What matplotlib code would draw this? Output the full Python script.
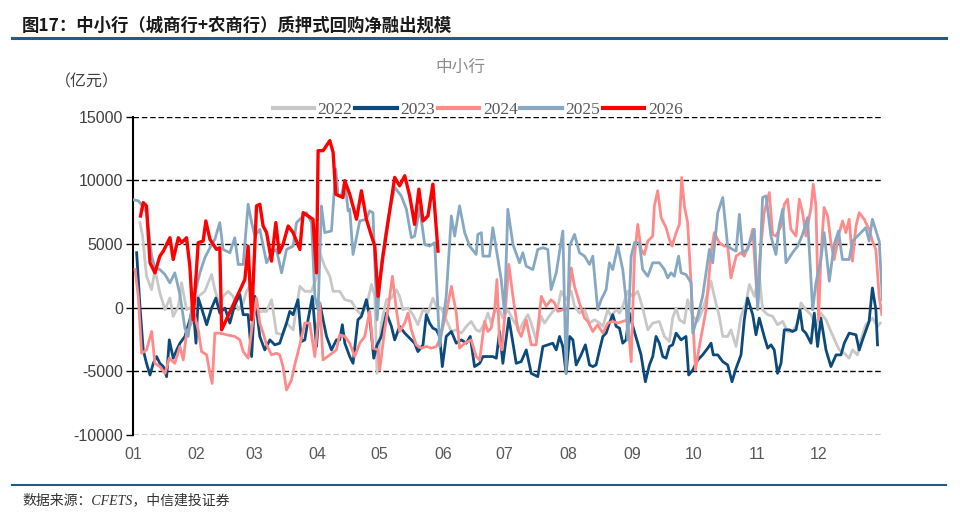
import numpy as np
import matplotlib
matplotlib.use("Agg")
import matplotlib.pyplot as plt
from matplotlib.lines import Line2D

plt.rcParams['font.family'] = ['Liberation Sans', 'Noto Sans CJK SC', 'DejaVu Sans']

# x = day of year, y = net lending (亿元)
d2022 = [3.4, 4.7, 6.6, 9.1, 10.7, 13.1, 15.6, 18.0, 19.6, 22.1, 23.7, 26.1, 29.3, 31.8, 35.0, 38.3, 39.9, 42.3,
         43.9, 46.4, 48.8, 51.3, 53.7, 55.3, 57.8, 60.2, 62.6, 65.1, 67.5, 69.9, 73.1, 74.8, 78.0, 81.3, 83.7, 86.9,
         89.4, 91.0, 93.4, 95.9, 97.5, 100.7, 103.2, 106.4, 108.9, 111.3, 113.7, 116.2, 117.8, 118.9, 121.0, 123.5,
         125.9, 128.3, 129.9, 131.5, 134.0, 136.4, 138.8, 141.3, 143.7, 146.1, 147.8, 150.2, 152.6, 155.1, 157.5,
         160.0, 162.4, 164.8, 167.2, 168.9, 171.3, 172.9, 174.5, 176.2, 178.6, 180.2, 182.6, 185.1, 188.3, 190.8,
         192.4, 194.0, 196.4, 198.9, 200.5, 202.1, 204.5, 207.0, 208.6, 211.0, 213.5, 215.1, 217.5, 220.0, 222.4,
         224.8, 227.3, 228.9, 231.3, 232.9, 235.4, 237.0, 238.6, 241.0, 243.5, 245.9, 248.3, 250.8, 253.2, 256.4,
         258.9, 261.3, 262.9, 264.6, 266.2, 268.6, 270.2, 272.7, 275.1, 277.5, 280.0, 281.6, 283.2, 285.6, 287.3,
         289.7, 291.3, 293.8, 296.2, 298.6, 300.3, 302.7, 305.1, 306.7, 309.2, 311.6, 314.0, 316.5, 318.9, 321.3,
         323.8, 325.4, 327.8, 330.3, 332.7, 335.1, 337.6, 340.0, 342.5, 344.1, 346.5, 348.9, 350.5, 352.9, 354.6,
         357.0, 360.2, 362.7, 364.0]
v2022 = [6690, 5630, 2470, 1420, 3000, 1160, -160, 760, -680, 110, 1950, -160, 110, 890, 1290, 2610, 1420, 110,
         890, 1290, 890, -160, 370, 1290, 1950, -420, -290, -290, 630, -2000, -2130, -1210, -1740, 1680, 1290, 1290,
         2340, 4320, 3260, 2470, 1290, 1290, 630, 500, -160, -550, 110, 1820, 890, -5160, -1210, 630,
         760, 1420, 890, -160, -30, -550, -1340, -160, -420, 760, 110, -30, -950, -1870, -1740,
         -2000, -1470, -1080, -1740, -1870, -1210, -420, -1210, -290, -160, -820, -160, -950, -1740, -950,
         -550, -1210, -2530, -680, -1210, -820, -290, 110, 1290, 630, 1290, 110, -420, -160, -1210,
         -950, -1210, -1470, -160, -680, -160, -420, 110, 1290, 890, 1290, -30, -1740, -1210, -1080,
         -2260, -2660, -820, -30, -950, -1210, 630, -680, -1080, -160, 1160, 2080, 890, -680, -2260,
         -2260, -1740, -3050, -680, 370, 1820, 890, 2610, -160, -550, -680, -1340, -1080, -1870, -1870,
         -1210, 370, -160, -550, -1470, -420, -950, -1870, -2790, -3320, -3580, -3970, -3320, -3710, -2530,
         -1340, -820, -1470, -1210]

d2023 = [1.8, 3.4, 5.0, 6.6, 8.3, 9.9, 11.5, 13.1, 14.8, 16.4, 17.7, 19.6, 21.3, 22.9, 25.3, 27.7, 29.3, 30.7,
         31.8, 33.4, 35.9, 38.3, 40.4, 42.3, 44.8, 47.2, 49.6, 52.1, 53.7, 56.1, 57.8, 59.4, 61.8, 64.2, 66.7, 69.1,
         71.5, 73.1, 74.8, 76.4, 78.0, 80.4, 82.1, 83.7, 85.3, 87.4, 89.4, 91.0, 92.6, 94.3, 96.7, 99.1, 100.7,
         102.0, 103.2, 105.6, 107.2, 109.6, 111.3, 113.7, 115.3, 117.3, 118.9, 121.0, 123.5, 125.9, 127.5, 129.9,
         132.4, 134.8, 137.2, 138.8, 141.3, 142.9, 144.5, 146.1, 147.8, 149.4, 150.7, 152.6, 155.1, 157.5, 160.0,
         162.4, 164.3, 166.4, 168.9, 170.5, 172.9, 175.3, 177.0, 178.6, 180.2, 183.1, 185.1, 186.7, 189.1, 191.6,
         194.0, 197.2, 199.7, 202.1, 204.5, 206.2, 207.8, 209.4, 211.0, 212.7, 214.3, 215.9, 218.3, 220.4, 222.4,
         224.0, 225.6, 227.3, 228.9, 230.5, 232.1, 233.7, 235.4, 237.0, 238.6, 240.2, 241.8, 243.5, 245.9, 247.5,
         249.6, 251.6, 253.2, 254.8, 256.4, 258.1, 259.7, 261.3, 262.9, 264.6, 267.0, 269.4, 270.7, 272.7, 275.1,
         277.5, 280.0, 281.6, 282.7, 284.9, 287.3, 289.7, 291.8, 293.8, 296.2, 297.8, 299.4, 301.9, 303.5, 305.1,
         307.5, 309.2, 310.8, 312.4, 314.0, 315.7, 317.3, 319.7, 321.3, 323.0, 324.9, 326.2, 327.8, 330.3, 331.9,
         333.5, 335.1, 337.6, 340.0, 342.5, 344.9, 346.5, 348.9, 352.2, 353.8, 355.4, 358.6, 360.2, 361.9, 362.7]
v2023 = [4320, 110, -3320, -4370, -5290, -4370, -3840, -4370, -4630, -5420, -2530, -3970, -3320, -2790, -2260, -950,
         110, -2790, 760, -30, -1340, -30, 760, -420, -30, -1210, 240, 1030, -550, -550, -3840, 890, -2260, -3320,
         -2530, -2920, -2790, -2000, -1210, -290, -550, 630, -2660, -2530, -950, 890, -3050, 370, -950, -2260, -3320,
         -2530, -2530, -1340, -2790, -3840, -4370, -950, -680, 630, -680, -3970, -2920, -2260, -420, -1470, -2530,
         -1470, -2000, -2400, -2790, -3450, -2920, -550, -1210, -1610, -1740, -2260, -4630, -2260, -1870, -2790,
         -2530, -2790, -2260, -4630, -4370, -3840, -3840, -3840, -3970, -1870, -4370, -820, -2790, -4370, -4240,
         -3320, -5160, -5420, -3050, -2920, -2790, -3320, -2260, -3050, -5160, -2260, -2530, -4500, -3710, -2920,
         -4500, -4630, -4500, -3320, -2260, -2000, -1210, -550, -1470, -1610, -2790, -2530, -420, -1470, -2790,
         -3710, -5820, -4500, -3840, -2260, -2790, -3840, -3970, -3050, -2920, -2000, -2530, -2260, -5290, -4900,
         -4110, -3710, -3180, -2790, -3710, -3710, -4240, -4500, -5820, -4760, -3710, -950, 760, -550, -2130,
         -820, -2260, -3180, -2920, -3320, -5160, -4370, -1740, -1740, -1870, -1740, -160, -1740, -2000, -2790,
         -420, -3050, -820, -3320, -4630, -3710, -3710, -2790, -2000, -2130, -3320, -2530, -1080, 1550, -160, -2920]

d2024 = [1.0, 2.6, 4.2, 6.6, 9.1, 10.7, 13.1, 15.6, 17.7, 20.4, 22.9, 24.5, 26.1, 28.5, 29.7, 31.8, 33.4, 35.9,
         37.5, 38.6, 39.9, 42.3, 45.6, 49.6, 52.1, 53.7, 56.1, 57.8, 60.2, 61.8, 63.4, 65.1, 67.5, 69.9, 71.5, 73.1,
         74.8, 77.2, 78.8, 81.3, 83.7, 86.1, 88.6, 91.0, 92.6, 95.9, 99.1, 100.7, 103.2, 105.6, 108.0, 110.5, 112.9,
         115.3, 116.9, 119.4, 120.2, 122.6, 124.2, 126.4, 128.3, 129.9, 132.4, 134.0, 135.6, 138.0, 140.5, 142.9,
         145.3, 147.8, 149.4, 152.6, 155.1, 157.5, 159.1, 161.6, 164.8, 167.2, 168.9, 171.3, 172.9, 174.5, 176.2,
         177.3, 178.6, 179.7, 181.8, 183.1, 185.1, 187.5, 189.1, 191.6, 194.0, 196.4, 198.9, 201.3, 203.7, 205.4,
         207.0, 209.4, 211.8, 213.5, 215.1, 217.5, 220.0, 221.6, 224.0, 226.4, 228.9, 231.3, 233.7, 236.2, 238.6,
         241.0, 242.7, 244.3, 245.9, 247.5, 249.1, 250.8, 253.2, 254.0, 255.6, 257.3, 259.7, 261.3, 262.6, 264.6,
         266.2, 267.3, 268.6, 270.2, 271.9, 274.0, 275.9, 279.2, 281.6, 283.2, 285.6, 288.1, 289.7, 291.3, 293.8,
         296.2, 297.8, 300.3, 301.9, 304.3, 305.1, 307.5, 310.0, 311.6, 313.2, 315.7, 317.3, 318.9, 320.5, 323.0,
         324.6, 326.2, 327.8, 330.3, 331.4, 332.7, 334.0, 335.1, 336.7, 338.4, 340.0, 341.6, 344.1, 345.7, 347.3,
         348.9, 350.5, 352.2, 353.8, 356.2, 358.6, 360.2, 361.9, 363.5, 364.8]
v2024 = [3000, 890, -3580, -3320, -1870, -4370, -4630, -5160, -3970, -4370, -3050, -4110, -2000, -1210, -420, -1740,
         -3450, -3710, -5160, -5950, -2000, -2000, -2130, -2260, -2530, -3450, -3970, -1740, 760, -1210, -2000, -2920,
         -3710, -3580, -3710, -4630, -6470, -5690, -4500, -2920, -1210, -1210, -3840, 370, -4110, -3710, -3320, -2130,
         -2260, -2790, -3840, -2790, -2260, -290, -3180, -3320, -4900, -1740, -160, 2470, -160, -1870, -1210, -420,
         -1740, -2920, -3180, -3050, -3180, -3050, -2530, -420, 1680, -420, -3180, -2790, -2530, -3840, -4110, -1080,
         -1870, -1610, -160, 2210, -2790, -3320, 630, 3400, 890, -1740, -2260, -950, -2920, -2920, 890, 110, 630, 370,
         -290, -160, -160, 3130, 1680, 370, -820, -1080, -1870, -1340, -2000, -1210, -1080, -1210, -1080, -950, -4240,
         4050, 6550, 4580, 4180, 5240, 5630, 8000, 9190, 7080, 6290, 5370, 4840, 5900, 6550, 10240, 8000, 6690, 1820,
         -4900, -3050, -160, 4320, 5900, 5110, 4840, 4840, 2340, 4050, 4320, 4050, 5110, 6160, 110, 3530, 7470, 9050,
         5760, 5630, 6420, 8130, 8530, 6160, 5630, 8530, 7470, 5630, 7870, 9710, 8000, -950, 4050, 7870, 7210, 5110,
         3790, 5900, 6820, 5900, 6950, 3660, 6420, 7470, 6950, 6160, 5240, 4580, 890, -550]

d2025 = [0.2, 2.6, 4.7, 6.6, 9.1, 10.7, 13.1, 15.6, 18.0, 20.4, 22.9, 25.3, 26.9, 28.5, 30.2, 32.6, 35.0, 37.5,
         39.9, 42.3, 43.9, 47.2, 49.6, 51.3, 53.7, 56.1, 57.8, 59.4, 61.8, 65.1, 67.5, 69.9, 72.4, 74.8, 78.0, 79.7,
         84.5, 87.0, 88.6, 90.2, 91.8, 93.4, 96.7, 98.8, 99.9, 101.5, 103.2, 104.8, 105.6, 107.2, 110.5, 113.7, 115.3,
         116.9, 118.9, 121.0, 124.2, 127.5, 130.7, 133.2, 135.6, 137.2, 139.7, 142.1, 144.5, 147.0, 149.4, 152.6,
         155.1, 156.7, 159.1, 161.6, 164.0, 167.2, 168.0, 169.7, 170.5, 173.7, 175.3, 177.0, 179.4, 181.0, 182.6,
         185.1, 188.3, 189.9, 191.6, 194.8, 197.2, 199.7, 202.1, 203.7, 206.2, 209.4, 211.0, 212.7, 215.1, 217.5,
         220.0, 222.4, 224.0, 226.4, 228.1, 230.5, 232.1, 233.7, 236.2, 238.6, 240.2, 241.0, 242.7, 244.3, 246.7,
         248.3, 250.8, 253.2, 256.4, 258.9, 260.5, 262.1, 263.7, 265.8, 267.0, 269.4, 271.9, 272.7, 275.1, 277.5,
         280.8, 282.4, 284.9, 287.3, 289.7, 292.1, 293.8, 295.4, 297.0, 299.4, 302.7, 304.3, 305.1, 306.7, 308.4,
         310.8, 313.2, 314.8, 316.5, 318.1, 321.3, 323.8, 326.2, 328.6, 331.1, 332.7, 335.1, 336.7, 339.2, 341.6,
         343.7, 345.6, 348.9, 350.5, 353.8, 357.0, 358.6, 360.2, 363.5, 365.1]
v2025 = [8480, 8400, 8000, 7470, 4050, 3130, 3000, 2610, 1950, 2740, 1030, -1610, -2260, -160, 1160, 2740, 3920, 4710,
         5370, 6690, 4580, 4320, 5500, 3400, 3400, 8130, 6690, 5630, 6160, 3530, 4320, 4580, 2740, 4580, 4840, 6690,
         7470, 6690, 890, -160, 8000, 5900, 6030, 10900, 8790, 8790, 9980, 7610, 7740, 4180, 6820, 6950, 7610,
         7470, -950, 3530, 6950, 9450, 8790, 7740, 5500, 5630, 7870, 4970, 4840, 5110, -3050, 890,
         7210, 5630, 8000, 5900, 4840, 4180, 5760, 5900, 4050, 4050, 6290, 4580, 2210, -420, 7740,
         4970, 3530, 4320, 3260, 3000, 4580, 4710, 4580, 1420, 2740, 6030, -5160, 4840, 5760, 4320,
         4050, 3400, 4050, -160, 630, 1420, 3530, 3000, 4840, 3000, 630, -2530, 4050, 5110, 5110,
         3000, 2470, 3530, 3530, 3000, 2340, 2740, 2470, 4050, 2740, 2610, 1950, -2000, -680, 890,
         4580, 3530, 7470, 8660, 4840, 4580, 4450, 7340, 4320, 4580, 6160, -160, 1950, 8660, 8790,
         5630, 4180, 6420, 7740, 3530, 4320, 4840, 5760, 7080, -160, 1950, 3790, 5900, 2080, 4970,
         6030, 3790, 3790, 5240, 5760, 6290, 5240, 6950, 5240, 630]

d2026 = [3.7, 5.0, 6.6, 8.3, 10.7, 13.1, 14.8, 18.0, 19.6, 22.1, 23.7, 26.1, 27.7, 29.3, 31.8, 34.2, 35.5, 37.5,
         40.7, 42.3, 43.2, 54.5, 56.1, 57.8, 60.2, 61.8, 63.4, 65.1, 67.5, 69.6, 71.2, 73.1, 75.6, 78.0, 81.3, 82.9,
         85.3, 87.7, 89.4, 90.2, 92.6, 95.9, 97.5, 98.8, 102.3, 103.2, 105.6, 108.9, 111.3, 113.7, 116.2, 117.8,
         119.4, 121.8, 124.2, 127.5, 129.9, 132.4, 134.8, 137.2, 139.3, 141.3, 143.7, 146.1, 148.6]
v2026 = [7210, 8260, 8000, 3530, 2740, 4050, 4450, 5500, 3790, 5500, 5110, 5500, 3260, -950, 5110, 5240, 6820, 5370,
         4580, 4710, -1740, 2210, 4840, -950, 8000, 8130, 6420, 5900, 3660, 6690, 4320, 4970, 6420, 5900, 4580, 7470,
         7210, 6950, 2740, 12340, 12340, 13130, 12210, 8920, 8660, 9980, 8920, 6950, 9190, 6950, 5630, 4840,
         890, 4050, 6690, 10240, 9580, 10370, 8790, 6550, 9320, 6820, 7210, 9710, 4450]

month_starts = [0, 31, 59, 90, 120, 151, 181, 212, 243, 273, 304, 334]
month_labels = ["01", "02", "03", "04", "05", "06", "07", "08", "09", "10", "11", "12"]
yticks = [-10000, -5000, 0, 5000, 10000, 15000]

series = [
    ("2022", d2022, v2022, "#c8c8c8", 2.0),
    ("2023", d2023, v2023, "#0b4a7a", 2.0),
    ("2024", d2024, v2024, "#ff8a8a", 2.0),
    ("2025", d2025, v2025, "#87a8c2", 2.0),
    ("2026", d2026, v2026, "#ff0000", 2.4),
]

fig = plt.figure(figsize=(9.6, 5.24), dpi=100)
ax = fig.add_axes([0.1385, 0.170, 0.7805, 0.607])

for yv in yticks:
    if yv == 0:
        ax.axhline(0, color="black", lw=1.0, zorder=1)
    else:
        ax.axhline(yv, color="black", lw=1.0, ls=(0, (4, 2)), zorder=1)

for name, d, v, c, lw in series:
    ax.plot(d, v, color=c, lw=lw, zorder=3, solid_joinstyle="round")

ax.set_xlim(0, 365)
ax.set_ylim(-10000, 15000)
ax.set_yticks(yticks)
ax.set_yticklabels([str(t) for t in yticks], fontsize=11.5, color="#404040")
ax.set_xticks(month_starts)
ax.set_xticklabels(month_labels, fontsize=11.5, color="#595959")
ax.tick_params(axis="x", length=0, pad=9)
ax.tick_params(axis="y", length=5, width=1, direction="out", pad=2)
for s in ["top", "right", "bottom"]:
    ax.spines[s].set_visible(False)
ax.spines["left"].set_linewidth(1.5)

handles = [Line2D([], [], color=c, lw=3) for _, _, _, c, _ in series]
leg = ax.legend(handles, [s[0] for s in series], loc="lower center", bbox_to_anchor=(0.46, 0.975),
                ncol=5, frameon=False, handlelength=2.4, handletextpad=0.2, columnspacing=0.15,
                prop={"family": "Liberation Serif", "size": 12.5}, borderaxespad=0)
for t in leg.get_texts():
    t.set_color("#595959")

fig.text(0.479, 0.872, "中小行", fontsize=12, color="#8c8c8c", ha="center", va="center",
         family=["Noto Sans CJK SC", "DejaVu Sans"])
fig.text(0.057, 0.843, "（亿元）", fontsize=11.5, color="#404040", ha="left", va="center",
         family=["Noto Sans CJK SC", "DejaVu Sans"])

fig.text(0.023, 0.952, "图17：中小行（城商行+农商行）质押式回购净融出规模", fontsize=12.5, fontweight="bold",
         color="#1a1a1a", ha="left", va="center", family=["Noto Sans CJK SC", "DejaVu Sans"])
fig.add_artist(Line2D([0.0125, 0.985], [0.927, 0.927], color="#1f5c8b", lw=2.2))
fig.add_artist(Line2D([0.0125, 0.985], [0.074, 0.074], color="#1f5c8b", lw=1.5))
fig.text(0.023, 0.045, "数据来源：CFETS，中信建投证券", fontsize=10, style="italic", color="#333333",
         ha="left", va="center", family=["Liberation Serif", "Noto Sans CJK SC", "DejaVu Sans"])

fig.savefig("out.png", dpi=100)
